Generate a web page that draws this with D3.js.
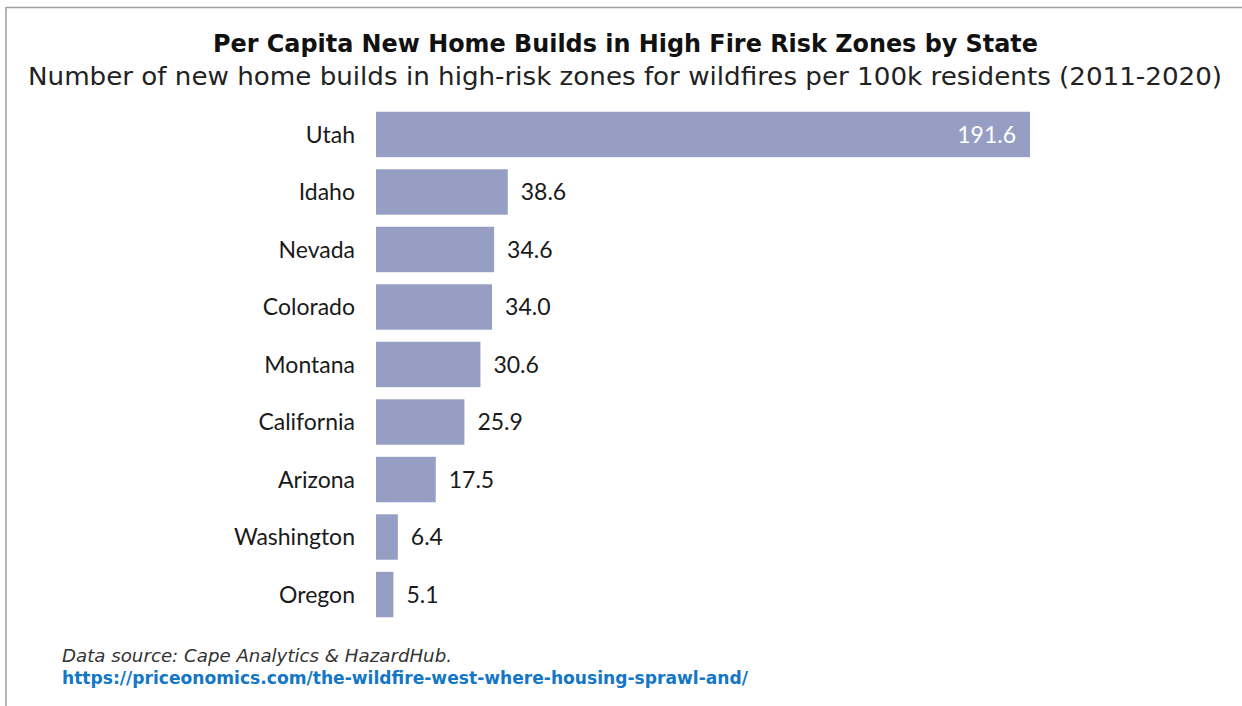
<!DOCTYPE html>
<html>
<head>
  <meta charset="UTF-8">
  <style>
    body { margin: 0; background: #fff; }
    svg { display: block; }
    .cat { font: 23px Lato, sans-serif; }
    .val { font: 23px Lato, sans-serif; }
  </style>
</head>
<body>
  <svg width="1242" height="706"></svg>
  <script src="https://cdnjs.cloudflare.com/ajax/libs/d3/7.8.5/d3.min.js"></script>
  <script>
    // data
    const states = ['Utah', 'Idaho', 'Nevada', 'Colorado', 'Montana', 'California', 'Arizona', 'Washington', 'Oregon'];
    const builds = [191.6, 38.6, 34.6, 34.0, 30.6, 25.9, 17.5, 6.4, 5.1];

    const svg = d3.select('svg');

    // frame (top + left edge only)
    svg.append('line').attr('x1', 6).attr('x2', 1242).attr('y1', 7.5).attr('y2', 7.5)
      .attr('stroke', '#a0a0a0').attr('stroke-width', 1.5);
    svg.append('line').attr('x1', 6).attr('x2', 6).attr('y1', 7).attr('y2', 706)
      .attr('stroke', '#a0a0a0').attr('stroke-width', 1.5);

    svg.append('text').attr('x', 213).attr('y', 52)
      .attr('textLength', 825).attr('lengthAdjust', 'spacingAndGlyphs')
      .style('font', 'bold 24px "DejaVu Sans", sans-serif').attr('fill', '#111')
      .text('Per Capita New Home Builds in High Fire Risk Zones by State');
    svg.append('text').attr('x', 28).attr('y', 85)
      .attr('textLength', 1194).attr('lengthAdjust', 'spacingAndGlyphs')
      .style('font', '24px "DejaVu Sans", sans-serif').attr('fill', '#222')
      .text('Number of new home builds in high-risk zones for wildfires per 100k residents (2011-2020)');

    const x = d3.scaleLinear().domain([0, 191.6]).range([376, 1030]);
    const y = d3.scaleBand().domain(states).range([106, 623]).paddingInner(0.21).paddingOuter(0.1);

    const rows = states.map((s, i) => ({ s, v: builds[i] }));

    svg.append('g').selectAll('rect').data(rows).enter().append('rect')
      .attr('x', x(0))
      .attr('y', d => y(d.s))
      .attr('width', d => x(d.v) - x(0))
      .attr('height', y.bandwidth())
      .attr('fill', '#969fc3');

    svg.append('g').selectAll('text').data(rows).enter().append('text')
      .attr('class', 'cat')
      .attr('x', 355)
      .attr('y', d => y(d.s) + y.bandwidth() / 2)
      .attr('dy', '0.35em')
      .attr('text-anchor', 'end')
      .style('fill', '#1a1a1a')
      .text(d => d.s);

    svg.append('g').selectAll('text').data(rows).enter().append('text')
      .attr('class', 'val')
      .attr('x', (d, i) => i === 0 ? x(d.v) - 14 : x(d.v) + 13)
      .attr('y', d => y(d.s) + y.bandwidth() / 2)
      .attr('dy', '0.35em')
      .attr('text-anchor', (d, i) => i === 0 ? 'end' : 'start')
      .style('fill', (d, i) => i === 0 ? '#fff' : '#1a1a1a')
      .text(d => d.v.toFixed(1));

    svg.append('text').attr('x', 62).attr('y', 662)
      .attr('textLength', 390).attr('lengthAdjust', 'spacingAndGlyphs')
      .style('font', 'oblique 17px "DejaVu Sans", sans-serif').attr('fill', '#333')
      .text('Data source: Cape Analytics & HazardHub.');
    svg.append('text').attr('x', 62).attr('y', 684)
      .attr('textLength', 686).attr('lengthAdjust', 'spacingAndGlyphs')
      .style('font', 'bold 17px "DejaVu Sans", sans-serif').attr('fill', '#1476c6')
      .text('https://priceonomics.com/the-wildfire-west-where-housing-sprawl-and/');
  </script>
</body>
</html>
